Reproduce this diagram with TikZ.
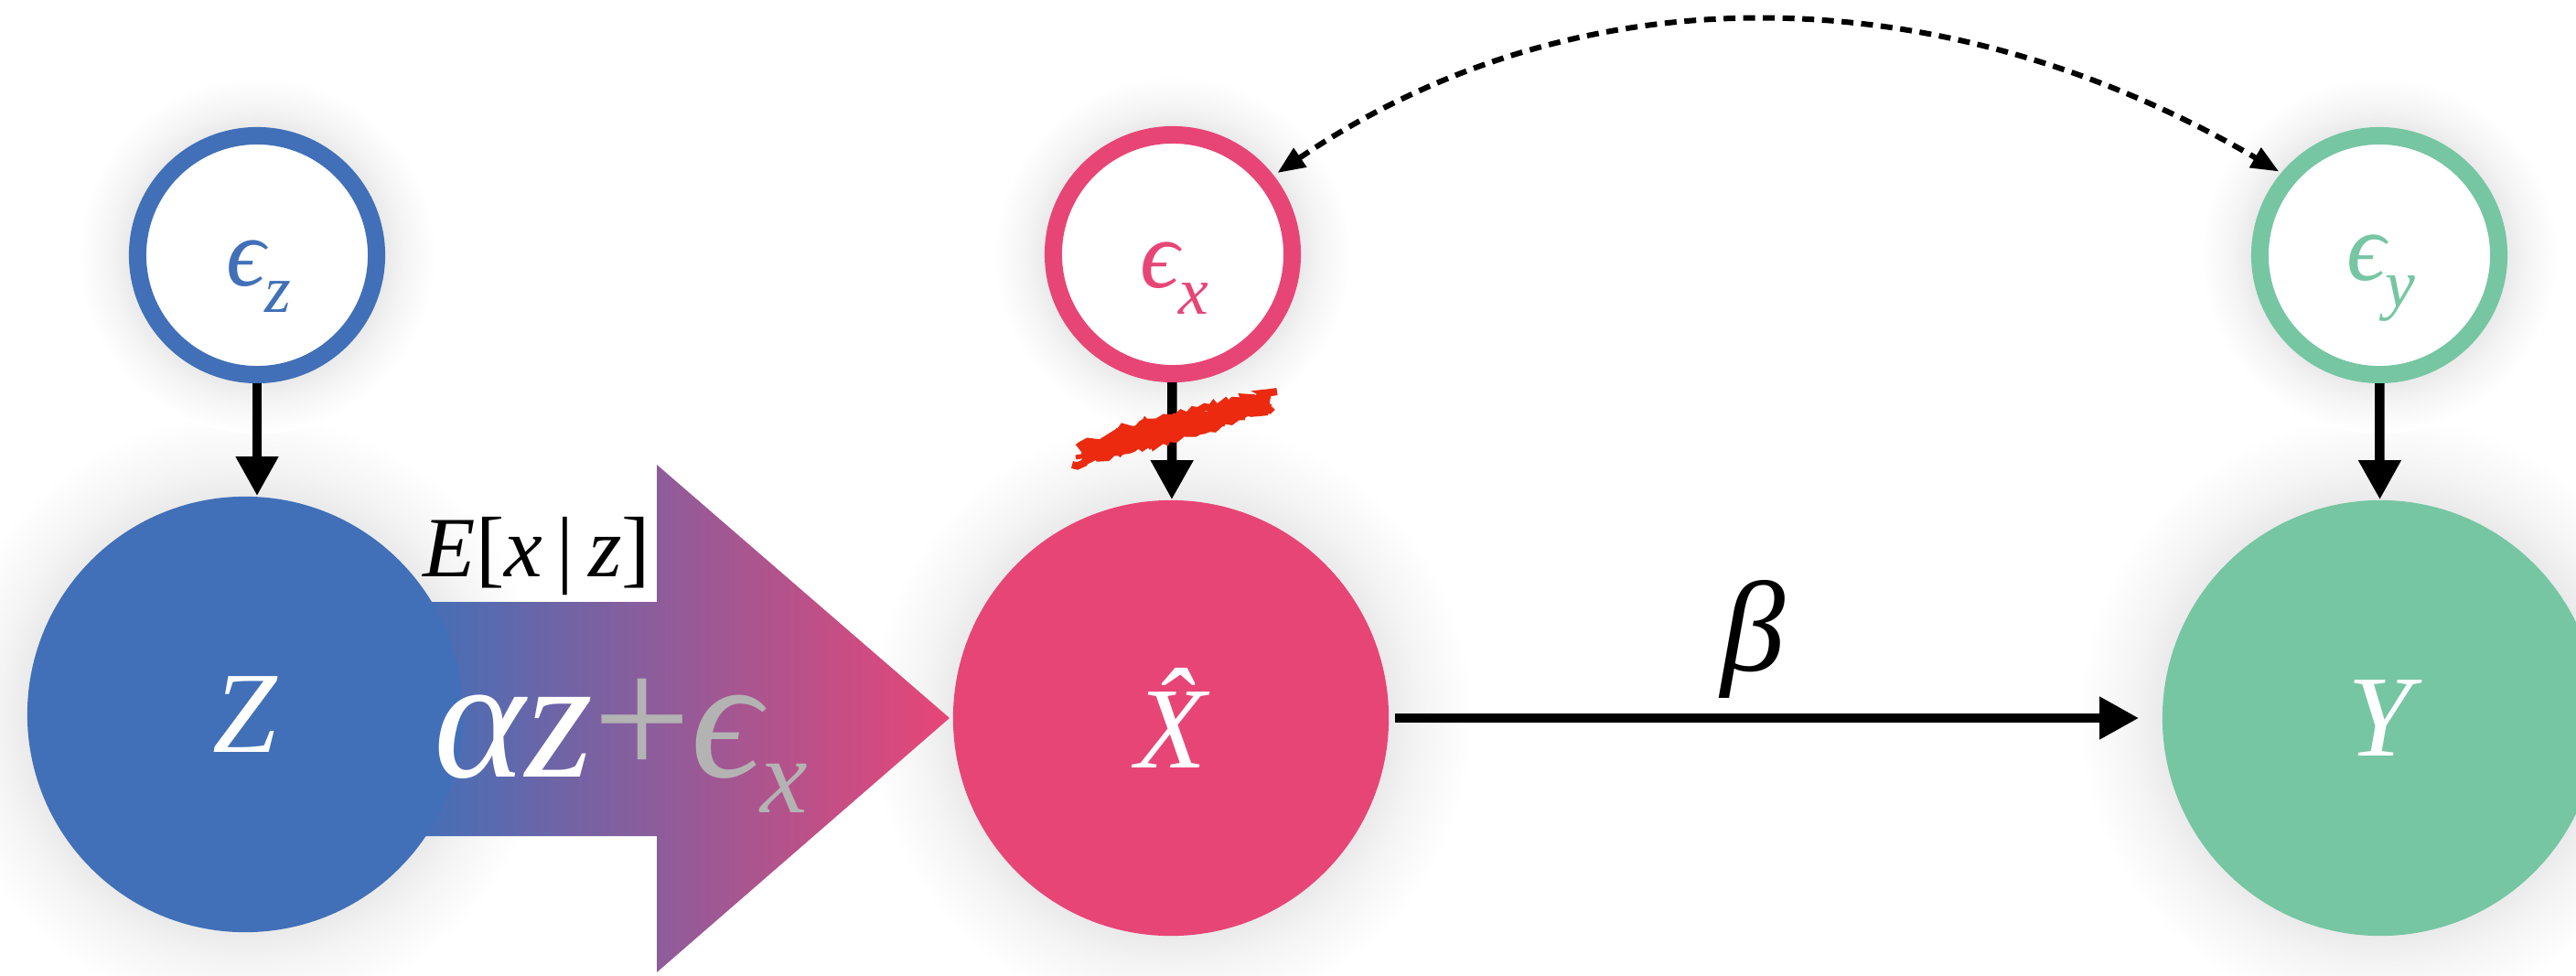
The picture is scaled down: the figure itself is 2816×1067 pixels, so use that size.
\documentclass[tikz,border=0pt]{standalone}
\usepackage{fontspec}
\setmainfont{Liberation Serif}
\usetikzlibrary{arrows.meta,decorations.pathmorphing}
\definecolor{zblue}{HTML}{4170B8}
\definecolor{xpink}{HTML}{E84577}
\definecolor{ygreen}{HTML}{76C6A3}
\definecolor{lblgray}{HTML}{B3B3B3}
\definecolor{scrib}{HTML}{EB2A10}
\definecolor{haloc}{HTML}{EAEAEA}
\definecolor{halom}{HTML}{F4F4F4}
\newcommand{\setfs}[1]{\fontsize{#1}{#1}\selectfont}
\pgfdeclareradialshading{halo}{\pgfpoint{0bp}{0bp}}{color(0bp)=(haloc); color(18bp)=(haloc); color(20.5bp)=(halom); color(25bp)=(white); color(50bp)=(white)}
\begin{document}
\begin{tikzpicture}[x=0.01cm, y=-0.01cm,
  bignode/.style={circle, minimum size=4.76cm, inner sep=0pt, text=white, font=\setfs{36pt}\itshape},
  noisenode/.style={circle, minimum size=2.61cm, line width=0.19cm, fill=white, inner sep=0pt},
  epslabel/.style={inner sep=0pt, font=\setfs{30pt}\itshape},
  conn/.style={line width=0.105cm, -{Triangle[length=0.43cm,width=0.44cm]}},
  dashcurve/.style={line width=0.06cm, dash pattern=on 0.13cm off 0.085cm, {Triangle[length=0.3cm,width=0.24cm]}-{Triangle[length=0.3cm,width=0.24cm]}},
  scribble/.style={draw=scrib, line width=0.2cm, decorate, decoration={random steps, segment length=1.5pt, amplitude=0.9pt}}
]
\useasboundingbox (0,0) rectangle (2816,1067);
\fill[white] (0,0) rectangle (2816,1067);
% halos
\shade[shading=halo] (268,781) circle (3.3cm);
\shade[shading=halo] (1280,785) circle (3.3cm);
\shade[shading=halo] (2602,783) circle (3.3cm);
\shade[shading=halo] (281,279) circle (1.95cm);
\shade[shading=halo] (1282,278) circle (1.95cm);
\shade[shading=halo] (2601,279) circle (1.95cm);
% big gradient arrow
\shade[left color=zblue, right color=xpink] (450,658) -- (718,658) -- (718,508) -- (1038,785) -- (718,1063) -- (718,914) -- (450,914) -- cycle;
% nodes
\node[bignode, fill=zblue] (z) at (268,781) {Z};
\node[bignode, fill=xpink] (xh) at (1280,785) {\^{X}};
\node[bignode, fill=ygreen] (y) at (2602,785) {Y};
\node[noisenode, draw=zblue] (ez) at (281,279) {};
\node[noisenode, draw=xpink] (ex) at (1282,278) {};
\node[noisenode, draw=ygreen] (ey) at (2601,279) {};
% labels
\node[epslabel, text=zblue] (ezl) at (283,302) {ϵ\raisebox{-0.27em}{\setfs{21pt}z}};
\node[epslabel, text=xpink] (exl) at (1284,304) {ϵ\raisebox{-0.27em}{\setfs{21pt}x}};
\node[epslabel, text=ygreen] (eyl) at (2603,304) {ϵ\raisebox{-0.27em}{\setfs{21pt}y}};
\node[font=\setfs{26.7pt}, anchor=base, inner sep=0pt] (cond) at (587,630) {\textit{E}[\textit{x}\,|\,\textit{z}]};
\node[font=\setfs{54pt}\itshape, anchor=base west, inner sep=0pt] (mix) at (474,849) {\textcolor{white}{αz}\textcolor{lblgray}{\upshape+}\textcolor{lblgray}{ϵ\raisebox{-0.21em}{\setfs{33pt}x}}};
\node[font=\setfs{40pt}\itshape, anchor=base, inner sep=0pt] (beta) at (1916,733) {β};
% connectors
\draw[conn] (ez) -- (ez |- z.north);
\draw[conn] (ex) -- (xh);
\draw[conn] (ey) -- (y);
\draw[conn, shorten <=0.06cm, shorten >=0.25cm] (xh) -- (y);
\draw[dashcurve, shorten <=0.05cm, shorten >=0.03cm] (ex.38) .. controls (1736,-41) and (2134,-22) .. (ey.140);
% red scribble
\pgfmathsetseed{12}
\draw[scribble] (1182,494) -- (1388,440);
\draw[scribble, line width=0.08cm] (1172,508) -- (1340,463);
\draw[scribble, line width=0.08cm] (1220,472) -- (1396,428);
\draw[scribble, line width=0.05cm] (1176,500) -- (1392,446);
\end{tikzpicture}
\end{document}
